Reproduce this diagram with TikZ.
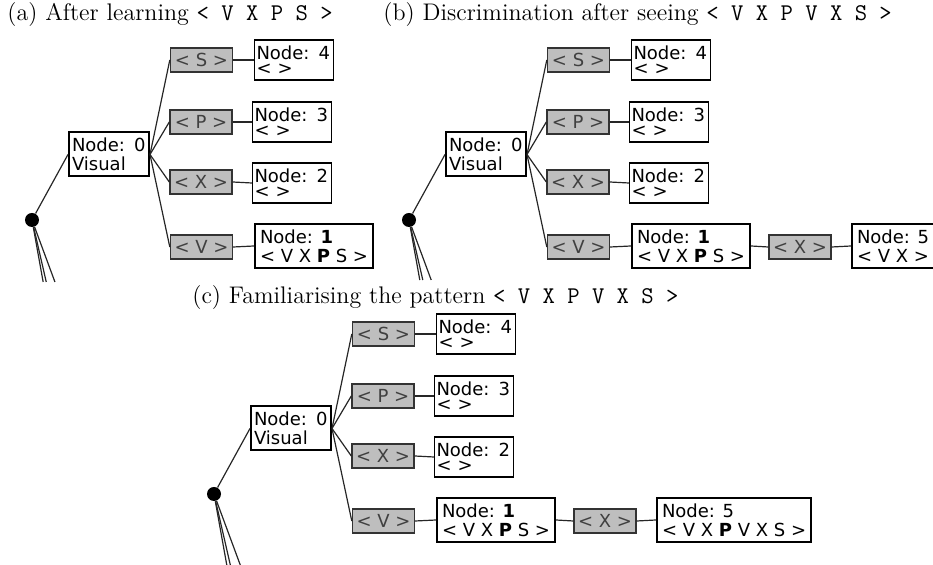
\documentclass[tikz,border=0pt]{standalone}
\usepackage{fontspec}
\newfontfamily\boxfont{DejaVu Sans}
\definecolor{boxgray}{RGB}{190,190,190}
\begin{document}
\begin{tikzpicture}
[x=0.5pt,y=-0.5pt,
  lineDecorate/.style={-,line width=0.6pt,draw=black!85},%
  rootDecorate/.style={shape=circle,fill,inner sep=0pt,minimum size=7pt},%
  keyDecorate/.style={shape=rectangle,draw=black!80,fill=boxgray,line width=0.7pt,
    minimum width=31pt,minimum height=12pt,inner sep=0pt,text=black!75,
    font=\boxfont\fontsize{9}{10}\selectfont},%
  leafDecorate/.style={shape=rectangle,draw,line width=0.6pt,minimum height=20pt,
    text width=37.5pt,inner xsep=1pt,inner ysep=0pt,align=left,
    font=\boxfont\fontsize{9}{7.6}\selectfont},%
  mainDecorate/.style={shape=rectangle,draw,line width=1pt,minimum height=22pt,
    inner xsep=2.5pt,inner ysep=0pt,align=left,
    font=\boxfont\fontsize{9}{9.5}\selectfont}]
\useasboundingbox (0,0) rectangle (933,565);
%% captions
\foreach \capname/\x/\y/\caption in {
  capa/7/21/{(a) After learning \texttt{< V X P S >}},
  capb/383/21/{(b) Discrimination after seeing \texttt{< V X P V X S >}},
  capc/192/304/{(c) Familiarising the pattern \texttt{< V X P V X S >}}}
{
  \node (\capname) at (\x,\y) [anchor=base west,inner sep=0pt,font=\large] {\caption};
}
%% the three trees
\foreach \p/\dx/\dy/\bot in {a/0/0/282, b/377/0/280, c/182/274/291}
{
  \begin{scope}[shift={(\dx,\dy)}]
  % nodes or vertices
  \node (\p-root) at (32,220) [rootDecorate] {};
  \node (\p-0) at (109,154.5) [mainDecorate,text width=37pt,inner xsep=1.5pt] {Node: 0\\Visual};
  \foreach \nodename/\x/\y/\symbol in {
    kS/201.5/60/S, kP/201/122/P, kX/201/182/X, kV/201.5/247/V}
  {
    \node (\p-\nodename) at (\x,\y) [keyDecorate] {< \symbol{} >};
  }
  \foreach \nodename/\x/\y/\num in {l4/294/60/4, l3/292/122/3, l2/292/183/2}
  {
    \node (\p-\nodename) at (\x,\y) [leafDecorate] {Node: \num\\< >};
  }
  \node (\p-1) at (254,246) [mainDecorate,anchor=west]
    {Node: \textbf{1}\\< V X \textbf{P} S >};
  % loose ends below the root
  \foreach \endname/\slope in {e1/0.18, e2/0.23, e3/0.37}
  {
    \coordinate (\p-\endname) at ({32+\slope*(\bot-220)},\bot);
  }
  % edges or lines
  \path
  \foreach \startnode/\endnode in {
    root/0.west, 0.east/kS.west, 0.east/kP.west, 0.east/kX.west, 0.east/kV.west,
    kS.east/l4.west, kP.east/l3.west, kX.east/l2.west, kV.east/1.west,
    root/e1, root/e2, root/e3}
  {
    (\p-\startnode) edge[lineDecorate] (\p-\endnode)
  };
  \end{scope}
}
%% discrimination and familiarisation of node 5
\node (b-kX2) at (800,247) [keyDecorate] {< X >};
\node (b-5) at (851,246) [mainDecorate,anchor=west,minimum width=40pt] {Node: 5\\< V X >};
\node (c-kX2) at (605,521) [keyDecorate] {< X >};
\node (c-5) at (656,520) [mainDecorate,anchor=west]
  {Node: 5\\< V X \textbf{P} V X S >};
\path
\foreach \p in {b,c}
{
  (\p-1.east) edge[lineDecorate] (\p-kX2.west)
  (\p-kX2.east) edge[lineDecorate] (\p-5.west)
};
\end{tikzpicture}
\end{document}
